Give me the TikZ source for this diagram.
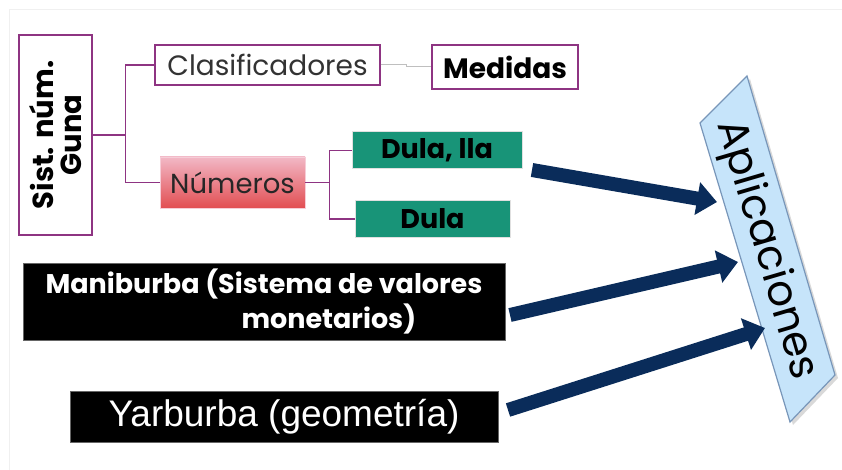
\documentclass[tikz,border=0pt]{standalone}
\usepackage{fontspec}
\setmainfont{Poppins}
\newfontfamily\arialfont{Liberation Sans}
\usepackage{tikz}
\usetikzlibrary{arrows.meta,calc,positioning}
\definecolor{guna}{RGB}{142,52,130}
\definecolor{tealbox}{RGB}{24,148,120}
\definecolor{pinktop}{RGB}{242,184,198}
\definecolor{redbot}{RGB}{226,78,82}
\definecolor{bannerfill}{RGB}{198,228,250}
\definecolor{bannerline}{RGB}{120,150,185}
\definecolor{navy}{RGB}{10,44,90}
\definecolor{slidegray}{RGB}{240,240,240}
\tikzset{
    box/.style ={rectangle, draw=guna, line width=1.3pt, inner sep=0pt, fill=white, text=black!80},
    numbox/.style ={rectangle, draw=pinktop!70!white, line width=0.6pt, inner sep=0pt,
        top color=pinktop, bottom color=redbot, text=black!85},
    greenbox/.style ={rectangle, draw=black!12, line width=1pt, inner sep=0pt, fill=tealbox,
        font=\fontsize{27}{30}\selectfont\bfseries},
    blackbox/.style ={rectangle, fill=black, draw=black!60, inner sep=0pt, text=white},
    link/.style ={draw=guna, line width=1.2pt},
    graylink/.style ={draw=black!25, line width=1pt},
    bigarrow/.style ={draw=navy, line width=14pt, -{Triangle[width=32pt,length=20pt]}}
}
\begin{document}
\begin{tikzpicture}[x=1pt,y=-1pt]
    \useasboundingbox (0,0) rectangle (842,470);
    \draw[slidegray, line width=1pt] (9,470) |- (842,10);

    \node[box, rotate=90, minimum width=200pt, minimum height=73pt, align=center,
        font=\fontsize{29}{28}\selectfont\bfseries, text=black] (sist) at (55.5,135) {Sist. núm.\\Guna};
    \node[box, minimum width=225pt, minimum height=40pt,
        font=\fontsize{28}{32}\selectfont] (clas) at (267.5,65) {Clasificadores};
    \node[box, minimum width=146pt, minimum height=44pt,
        font=\fontsize{28}{32}\selectfont\bfseries, text=black] (med) at (505,67) {Medidas};
    \node[numbox, minimum width=145pt, minimum height=51pt,
        font=\fontsize{27.5}{30}\selectfont] (num) at (232.5,182.5) {Números};
    \node[greenbox, minimum width=170pt, minimum height=37pt] (dula1) at (437,150.5) {Dula, lla};
    \node[greenbox, minimum width=155pt, minimum height=36pt] (dula2) at (432.5,219) {Dula};
    \node[blackbox, minimum width=482pt, minimum height=77pt, align=left,
        font=\fontsize{27}{35}\selectfont\bfseries] (mani) at (264,301.5)
        {Maniburba (Sistema de valores\\\hspace*{196pt}monetarios)};
    \node[blackbox, minimum width=428pt, minimum height=51pt,
        font=\arialfont\fontsize{37}{40}\selectfont] (yar) at (284,416.5) {Yarburba (geometría)};

    \path[link] (sist.south) -- ++(33,0) |- (clas.west);
    \path[link] (sist.south) -- ++(33,0) |- (num.west);
    \path[link] (num.east) -- ++(24,0) |- (dula1.west);
    \path[link] (num.east) -- ++(24,0) |- (dula2.west);
    \path[graylink] (clas.east) -- ++(26,0) |- (med.west);

    % banner
    \coordinate (btl) at (700,123);
    \coordinate (btr) at (747,76);
    \coordinate (bbr) at (835,375);
    \coordinate (bbl) at (790,422);
    \fill[black!15] ($(btl)+(3,3)$) -- ($(btr)+(3,3)$) -- ($(bbr)+(3,3)$) -- ($(bbl)+(3,3)$) -- cycle;
    \filldraw[fill=bannerfill, draw=bannerline, line width=1.2pt] (btl) -- (btr) -- (bbr) -- (bbl) -- cycle;
    \node[rotate=-73.6, font=\fontsize{42}{46}\selectfont] (apl) at (766,250) {Aplicaciones};

    \coordinate (s1) at (532,170);
    \coordinate (t1) at (717,202);
    \coordinate (s2) at (510,315);
    \coordinate (t2) at (738,262);
    \coordinate (s3) at (508,410);
    \coordinate (t3) at (765,328);
    \path[bigarrow] (s1) -- (t1);
    \path[bigarrow] (s2) -- (t2);
    \path[bigarrow] (s3) -- (t3);
\end{tikzpicture}
\end{document}
